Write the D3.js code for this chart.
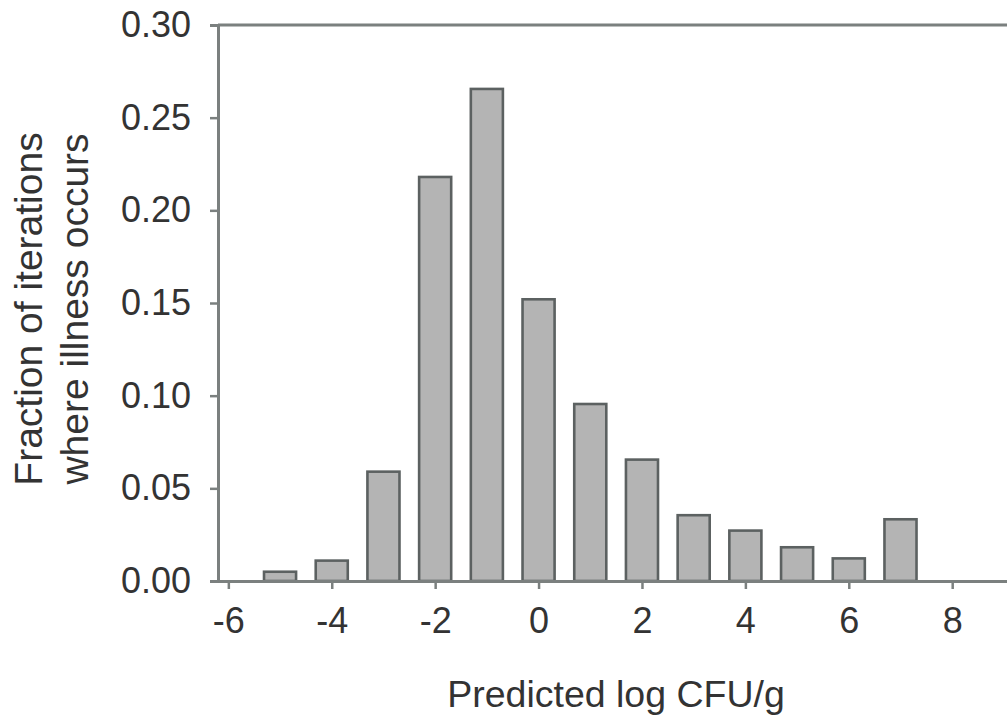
<!DOCTYPE html>
<html>
<head>
<meta charset="utf-8">
<script src="https://cdn.jsdelivr.net/npm/d3@7"></script>
<style>
  html, body { margin: 0; padding: 0; background: #fff; }
  svg { display: block; }
  text { font-family: "Liberation Sans", Arial, Helvetica, sans-serif; fill: #333; }
</style>
</head>
<body>
<svg id="chart" width="1007" height="718"></svg>
<script>
// Data
const binCenters = [-5, -4, -3, -2, -1, 0, 1, 2, 3, 4, 5, 6, 7];
const fractions = [0.005, 0.011, 0.059, 0.218, 0.2655, 0.152, 0.0955, 0.0655, 0.0355, 0.0272, 0.0182, 0.0122, 0.0333];
const xTicks = [-6, -4, -2, 0, 2, 4, 6, 8];
const yTicks = [0.00, 0.05, 0.10, 0.15, 0.20, 0.25, 0.30];
const xTitle = "Predicted log CFU/g";
const yTitleLines = ["Fraction of iterations", "where illness occurs"];

const svg = d3.select("#chart");
const axisColor = "#7b807f";

const x = d3.scaleLinear().domain([-6.2, 9.06]).range([218, 1007]);
const y = d3.scaleLinear().domain([0, 0.30]).range([581, 25]);
const halfW = 0.31;

// bars
svg.append("g").selectAll("rect")
  .data(binCenters.map((c, i) => ({ c, v: fractions[i] })))
  .join("rect")
  .attr("x", d => x(d.c - halfW))
  .attr("width", d => x(d.c + halfW) - x(d.c - halfW))
  .attr("y", d => y(d.v))
  .attr("height", d => y(0) - y(d.v))
  .attr("fill", "#b4b4b4")
  .attr("stroke", "#5c6161")
  .attr("stroke-width", 2.6);

// top border
svg.append("line")
  .attr("x1", x.range()[0]).attr("x2", x.range()[1])
  .attr("y1", y(0.30)).attr("y2", y(0.30))
  .attr("stroke", axisColor).attr("stroke-width", 3);

// y axis
const yAxis = d3.axisLeft(y).tickValues(yTicks).tickFormat(d3.format(".2f")).tickSize(8).tickPadding(19);
const gy = svg.append("g").attr("transform", `translate(${x.range()[0]},0)`).call(yAxis);
gy.select(".domain").attr("stroke", axisColor).attr("stroke-width", 3);
gy.selectAll(".tick line").attr("stroke", axisColor).attr("stroke-width", 2.5);
gy.selectAll(".tick text").style("font-size", "36px").attr("fill", "#333");

// x axis
const xAxis = d3.axisBottom(x).tickValues(xTicks).tickFormat(d3.format("d")).tickSize(8).tickSizeOuter(0).tickPadding(18);
const gx = svg.append("g").attr("transform", `translate(0,${y(0)})`).call(xAxis);
gx.select(".domain").attr("stroke", axisColor).attr("stroke-width", 3);
gx.selectAll(".tick line").attr("stroke", axisColor).attr("stroke-width", 2.5);
gx.selectAll(".tick text").style("font-size", "36px").attr("fill", "#333")
  .text(d => d < 0 ? "-" + Math.abs(d) : String(d));

// x title
svg.append("text")
  .attr("x", 616).attr("y", 707)
  .attr("text-anchor", "middle")
  .style("font-size", "37.5px")
  .text(xTitle);

// y title
const yt = svg.append("text")
  .attr("transform", "translate(0,309) rotate(-90)")
  .attr("text-anchor", "middle")
  .style("font-size", "39px");
yt.append("tspan").attr("x", 0).attr("y", 42).text(yTitleLines[0]);
yt.append("tspan").attr("x", 0).attr("y", 88).text(yTitleLines[1]);
</script>
</body>
</html>
